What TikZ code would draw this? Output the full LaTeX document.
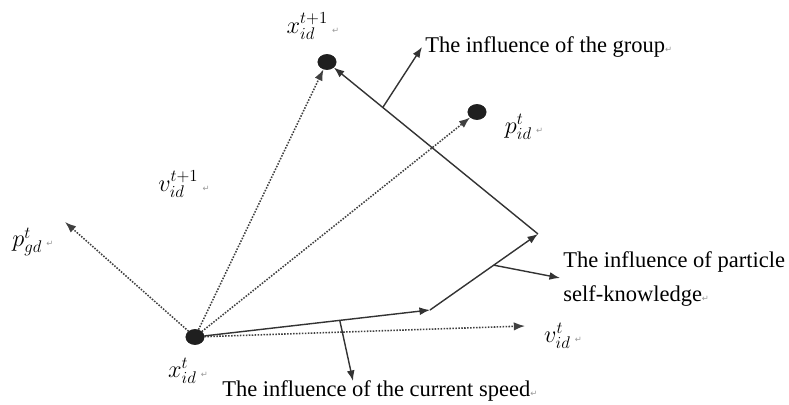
\documentclass[tikz,border=0pt]{standalone}
\usepackage{fontspec}
\setmainfont{Liberation Serif}
\newfontfamily\markfont{DejaVu Sans}
\usepackage{tikz}
\usetikzlibrary{arrows.meta, shapes.geometric}

\newcommand{\retmark}{{\markfont\fontsize{6}{6}\selectfont\color{black!40}↵}}

\begin{document}
\begin{tikzpicture}[
  x=0.025cm, y=-0.025cm,
  >=Latex,
  every node/.style={font=\fontsize{16}{19}\selectfont},
  particle/.style={ellipse, fill=black!88, draw=black!88, inner sep=0pt,
    minimum width=0.46cm, minimum height=0.38cm},
  mathtag/.style={inner sep=0pt, font=\fontsize{18}{20}\selectfont},
  infotext/.style={anchor=base west, inner sep=0pt, align=left},
  velarrow/.style={->, densely dotted, line width=1.1pt, draw=black!75},
  steparrow/.style={->, line width=1pt, draw=black!80}
]
  \useasboundingbox (0,0) rectangle (789,405);

  % Particle positions
  \node[particle] (xt) at (195,337) {};
  \node[particle] (xnext) at (327,62) {};
  \node[particle] (pid) at (477,112) {};

  % Free ends and corners
  \coordinate (pgdtip) at (65,222);
  \coordinate (vidtip) at (525,326);
  \coordinate (c1) at (430,310);
  \coordinate (c2) at (538,234);
  \coordinate (speedtip) at (353,381);
  \coordinate (selftip) at (560,278);
  \coordinate (grouptip) at (422,47);

  % Dotted velocity vectors
  \draw[velarrow] (xt) -- (pgdtip);
  \draw[velarrow] (xt) -- (xnext);
  \draw[velarrow] (xt) -- (pid);
  \draw[velarrow] (xt) -- (vidtip);

  % Velocity update
  \draw[steparrow] (xt) -- coordinate[pos=0.6] (m1) (c1);
  \draw[steparrow] (c1) -- coordinate[pos=0.59] (m2) (c2);
  \draw[steparrow] (c2) -- coordinate[pos=0.76] (m3) (xnext);

  % Influence pointers
  \draw[steparrow] (m1) -- (speedtip);
  \draw[steparrow] (m2) -- (selftip);
  \draw[steparrow] (m3) -- (grouptip);

  % Math labels
  \node[mathtag] (xnextlbl) at (313,26) {$x_{id}^{t+1}$\,\retmark};
  \node[mathtag] (pidlbl) at (524,127) {$p_{id}^{t}$\,\retmark};
  \node[mathtag] (vnextlbl) at (184,184) {$v_{id}^{t+1}$\,\retmark};
  \node[mathtag] (pgdlbl) at (33,242) {$p_{gd}^{t}$\,\retmark};
  \node[mathtag] (xtlbl) at (188,371) {$x_{id}^{t}$\,\retmark};
  \node[mathtag] (vidlbl) at (563,336) {$v_{id}^{t}$\,\retmark};

  % Influence texts
  \node[infotext] (grouptxt) at (425,53) {The influence of the group\retmark};
  \node[infotext] (selftxt) at (563,268) {The influence of particle};
  \node[infotext] (selftxt2) at (563,302) {self-knowledge\retmark};
  \node[infotext] (speedtxt) at (222,397) {The influence of the current speed\retmark};
\end{tikzpicture}
\end{document}
